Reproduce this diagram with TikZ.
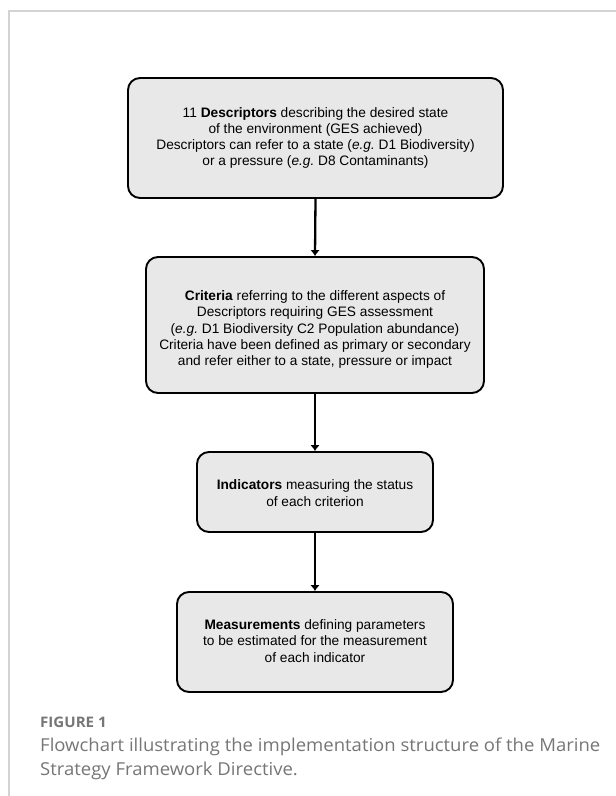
\documentclass[tikz,border=0pt]{standalone}
\usepackage{fontspec}
\setmainfont{Liberation Sans}
\newfontfamily\capfont[FakeStretch=1.04]{Open Sans}
\usetikzlibrary{arrows.meta}
\definecolor{boxfill}{HTML}{E8E8E8}
\definecolor{framegray}{HTML}{D3D3D3}
\definecolor{capgray}{HTML}{767676}
\tikzset{
  box/.style={draw=black, line width=1.9pt, fill=boxfill, rounded corners=12pt, inner sep=0pt},
  boxtext/.style={align=center, font=\fontsize{13.7}{16.2}\selectfont, inner sep=0pt},
  flow/.style={line width=2.3pt, -{Latex[length=6pt,width=9.5pt]}},
  frameline/.style={draw=framegray, line width=1.4pt}
}
\begin{document}
\frenchspacing
\begin{tikzpicture}[x=1pt,y=-1pt]
\useasboundingbox (0,0) rectangle (616,796);
\fill[white] (0,0) rectangle (616,796);
\coordinate (ftr) at (616,11);
\coordinate (ftl) at (9,11);
\coordinate (fbl) at (9,796);
\draw[frameline] (ftr) -- (ftl) -- (fbl);

\node[box, minimum width=375pt, minimum height=120pt] (desc) at (315.5,138) {};
\node[boxtext] (desctext) at (315.5,138)
  {11 \textbf{Descriptors} describing the desired state\\
   of the environment (GES achieved)\\
   Descriptors can refer to a state (\textit{e.g.} D1 Biodiversity)\\
   or a pressure (\textit{e.g.} D8 Contaminants)};
\node[box, minimum width=338pt, minimum height=136pt] (crit) at (315,325) {};
\node[boxtext] (crittext) at (315,329.5)
  {\textbf{Criteria} referring to the different aspects of\\
   Descriptors requiring GES assessment\\
   (\textit{e.g.} D1 Biodiversity C2 Population abundance)\\
   Criteria have been defined as primary or secondary\\
   and refer either to a state, pressure or impact};
\node[box, minimum width=236pt, minimum height=80pt] (ind) at (315,492) {};
\node[boxtext] (indtext) at (315,493)
  {\textbf{Indicators} measuring the status\\
   of each criterion};
\node[box, minimum width=276pt, minimum height=100pt] (meas) at (315,642) {};
\node[boxtext] (meastext) at (315,641)
  {\textbf{Measurements} defining parameters\\
   to be estimated for the measurement\\
   of each indicator};

\draw[flow] (desc.south) -- (crit.north);
\draw[flow] (crit.south) -- (ind.north);
\draw[flow] (ind.south) -- (meas.north);

\node[anchor=base west, inner sep=0pt, text=capgray, font=\capfont\bfseries\fontsize{14.5}{16}\selectfont] (fig) at (40,727) {FIGURE 1};
\node[anchor=base west, inner sep=0pt, text=capgray, font=\capfont\fontsize{17.8}{22}\selectfont] (cap1) at (40,751) {Flowchart illustrating the implementation structure of the Marine};
\node[anchor=base west, inner sep=0pt, text=capgray, font=\capfont\fontsize{17.8}{22}\selectfont] (cap2) at (40,775) {Strategy Framework Directive.};
\end{tikzpicture}
\end{document}
